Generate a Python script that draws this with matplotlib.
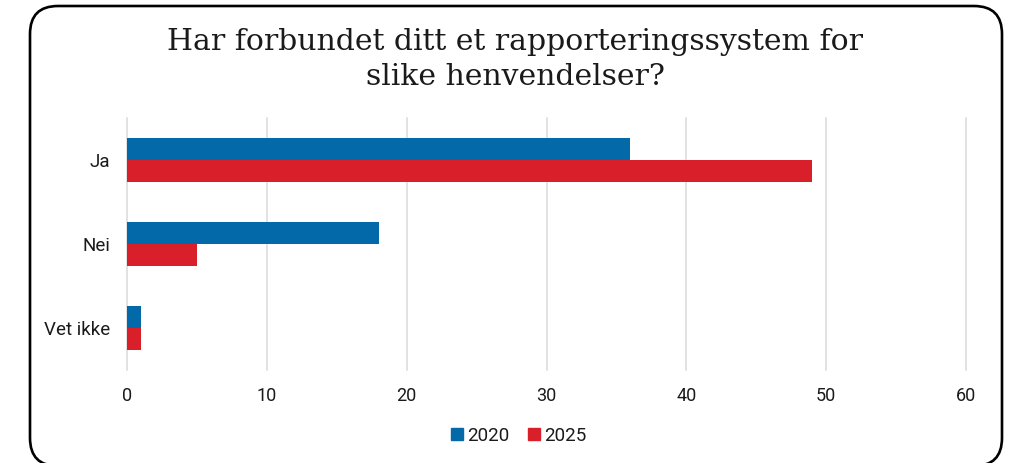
import numpy as np
import matplotlib
matplotlib.use("Agg")
import matplotlib.pyplot as plt
from matplotlib.patches import FancyBboxPatch, Patch

categories = ["Ja", "Nei", "Vet ikke"]
values_2020 = [36, 18, 1]
values_2025 = [49, 5, 1]
years = ["2020", "2025"]
x_ticks = [0, 10, 20, 30, 40, 50, 60]
title_lines = ["Har forbundet ditt et rapporteringssystem for", "slike henvendelser?"]

BLUE = "#0369a8"
RED = "#d9202a"
TEXT = "#1a1a1a"

plt.rcParams['font.family'] = ['Roboto', 'DejaVu Sans']

fig = plt.figure(figsize=(10.11, 4.63), dpi=100)
W, H = 1011, 463

# rounded frame around the whole chart (bottom edge runs just past the canvas)
left, right, top, bottom = 30, 1002, 6, 466
frame = FancyBboxPatch((left / W, 1 - bottom / H), (right - left) / W, (bottom - top) / H,
                       boxstyle="round,pad=0,rounding_size=%f" % (28 / W),
                       transform=fig.transFigure, fill=False,
                       edgecolor="black", linewidth=1.9,
                       mutation_aspect=W / H, clip_on=False)
fig.patches.append(frame)

ax = fig.add_axes([127 / W, 1 - 370 / H, (966 - 127) / W, (370 - 118) / H])

y = np.arange(len(categories))
h = 22 / 84
ax.barh(y - h / 2, values_2020, height=h, color=BLUE, label=years[0], zorder=3)
ax.barh(y + h / 2, values_2025, height=h, color=RED, label=years[1], zorder=3)

ax.set_xlim(0, 60)
ax.set_ylim(len(categories) - 0.5, -0.5)
ax.set_xticks(x_ticks)
ax.set_yticks(y)
ax.set_yticklabels(categories)
ax.tick_params(axis="both", length=0, labelsize=13, colors=TEXT)
ax.tick_params(axis="y", labelsize=13.5, pad=12)
ax.tick_params(axis="x", pad=12)
ax.grid(axis="x", color="#dddddd", linewidth=1.2, zorder=0)
for gl in ax.get_xgridlines():
    gl.set_clip_on(False)
for s in ax.spines.values():
    s.set_visible(False)

# two-line serif title
for line, base in zip(title_lines, [50, 85]):
    fig.text(515 / W, 1 - base / H, line, ha="center", va="baseline",
             family=["DejaVu Serif"], fontsize=21.5, color=TEXT)

handles = [Patch(color=BLUE), Patch(color=RED)]
fig.legend(handles, years, loc="center", bbox_to_anchor=(519 / W, 1 - 436 / H),
           ncol=2, frameon=False, fontsize=13.5, handlelength=0.6, handleheight=0.6,
           handletextpad=0.25, columnspacing=1.0, labelcolor=TEXT)

fig.savefig("out.png", dpi=100)
